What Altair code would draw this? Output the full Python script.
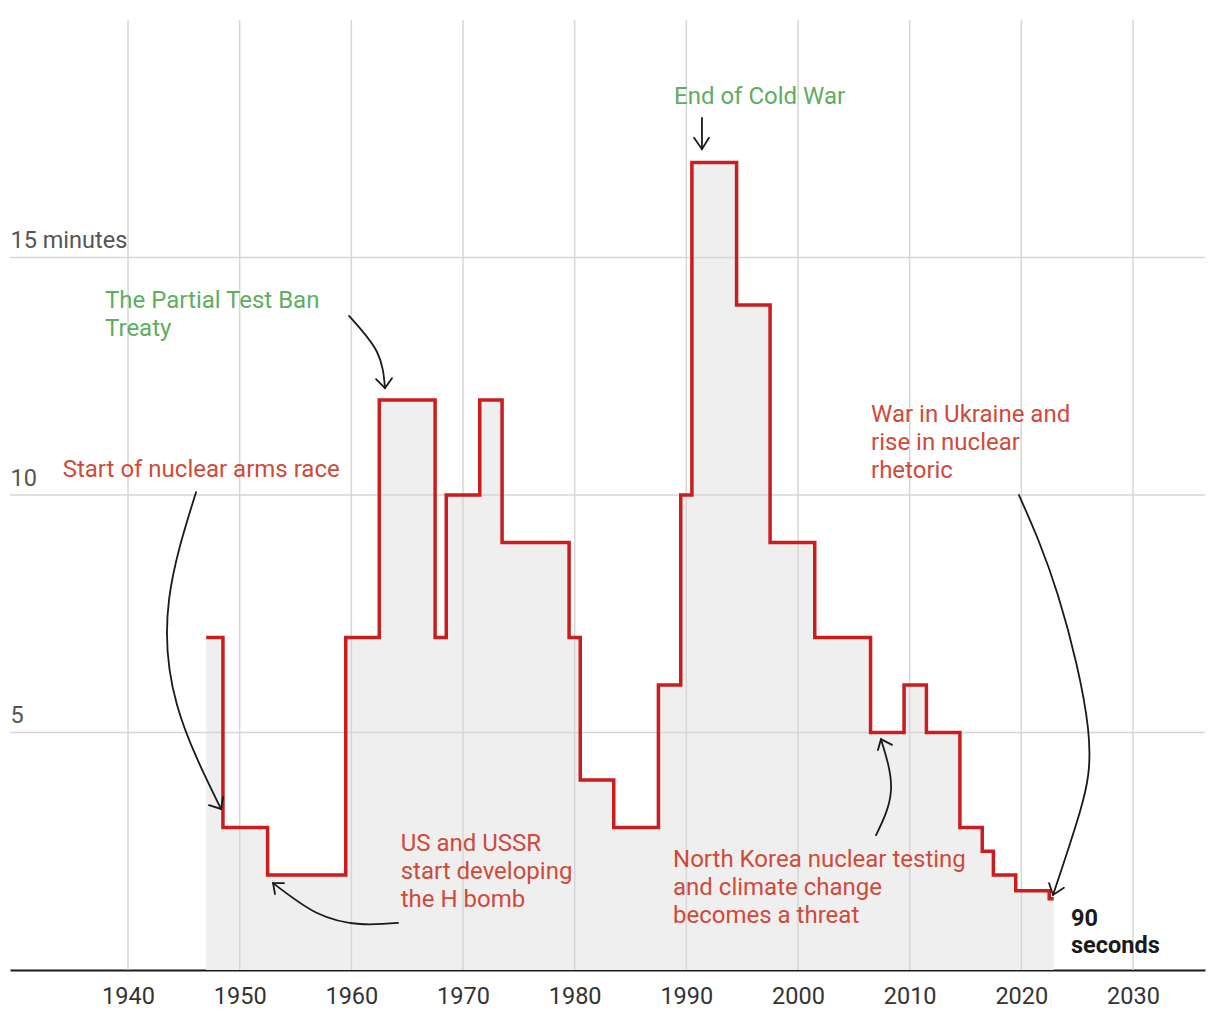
import altair as alt
import pandas as pd

# ---- data ----
# year at which each setting starts (steps drawn at mid-year), last value = end of area
step_years = [1947, 1948.5, 1952.5, 1959.5, 1962.5, 1967.5, 1968.5, 1971.5, 1973.5,
              1979.5, 1980.5, 1983.5, 1987.5, 1989.5, 1990.5, 1994.5, 1997.5, 2001.5,
              2006.5, 2009.5, 2011.5, 2014.5, 2016.5, 2017.5, 2019.5, 2022.5, 2022.9]
minutes = [7, 3, 2, 7, 12, 7, 10, 12, 9, 7, 4, 3, 6, 10, 17, 14, 9, 7, 5, 6, 5, 3,
           2.5, 2, 1.667, 1.5, 1.5]

x_ticks = [1940, 1950, 1960, 1970, 1980, 1990, 2000, 2010, 2020, 2030]
y_ticks = [5, 10, 15]

# annotations (data units)
ann_text = ["End of Cold War", "The Partial Test Ban\nTreaty", "Start of nuclear arms race",
            "US and USSR\nstart developing\nthe H bomb",
            "North Korea nuclear testing\nand climate change\nbecomes a threat",
            "War in Ukraine and\nrise in nuclear\nrhetoric"]
ann_x = [1988.9, 1937.94, 1934.15, 1964.42, 1988.81, 2006.54]
ann_y = [18.24, 13.94, 10.37, 2.505, 2.175, 11.54]
ann_color = ["#5fad5f", "#5fad5f", "#d04a3a", "#d04a3a", "#d04a3a", "#d04a3a"]

end_text = ["90\nseconds"]
end_x = [2024.45]
end_y = [0.933]

# curved arrow paths
arr_id = [1, 1, 1, 1, 2, 2, 2, 3, 3, 3, 3, 4, 4, 4, 5, 5, 6, 6, 6, 6, 6]
arr_x = [1946.09, 1943.67, 1944.39, 1948.33,
         1959.79, 1962.30, 1963.01,
         1964.18, 1960.78, 1956.93, 1952.99,
         2006.99, 2008.33, 2007.43,
         1991.40, 1991.40,
         2019.79, 2023.28, 2025.97, 2025.25, 2022.84]
arr_y = [10.06, 7.79, 5.58, 3.39,
         13.77, 13.01, 12.25,
         0.99, 0.968, 1.2, 1.83,
         2.84, 3.79, 4.86,
         17.94, 17.28,
         10.0, 7.89, 5.09, 3.33, 1.58]

# arrow heads (wing, tip, wing)
head_id = [1, 1, 1, 2, 2, 2, 3, 3, 3, 4, 4, 4, 5, 5, 5, 6, 6, 6]
head_x = [1947.25, 1948.33, 1948.51,
          1962.21, 1963.01, 1963.64,
          1953.97, 1952.99, 1953.16,
          2007.16, 2007.43, 2008.42,
          1990.69, 1991.40, 1992.03,
          2022.48, 2022.84, 2023.82]
head_y = [3.47, 3.39, 3.64,
          12.44, 12.25, 12.46,
          1.83, 1.83, 1.60,
          4.63, 4.86, 4.74,
          17.52, 17.28, 17.52,
          1.83, 1.58, 1.73]

# ---- tables ----
clock = pd.DataFrame({"year": step_years, "minutes": minutes})
xt = pd.DataFrame({"year": x_ticks})
yt = pd.DataFrame({"minutes": y_ticks})
ann = pd.DataFrame({"x": ann_x, "y": ann_y, "label": ann_text, "color": ann_color})
endann = pd.DataFrame({"x": end_x, "y": end_y, "label": end_text})
arrows = pd.DataFrame({"id": arr_id, "x": arr_x, "y": arr_y, "ord": range(len(arr_x))})
heads = pd.DataFrame({"id": head_id, "x": head_x, "y": head_y, "ord": range(len(head_x))})

FONT = "Roboto"
FS = 24
xscale = alt.Scale(domain=[1929.43, 2036.45], nice=False, zero=False)
yscale = alt.Scale(domain=[0, 20], nice=False, zero=True)

x_axis = alt.Axis(values=x_ticks, format="d", grid=False, ticks=False, tickSize=0,
                  domain=True, domainColor="#1a1a1a", domainWidth=2,
                  labelFont=FONT, labelFontSize=23.5, labelColor="#333333",
                  labelBaseline="alphabetic", labelPadding=33, title=None)
y_axis = alt.Axis(values=y_ticks, grid=False, ticks=False, tickSize=0, domain=False,
                  labelAlign="left", labelBaseline="alphabetic", labelPadding=0,
                  labelOffset=-10, labelFont=FONT, labelFontSize=23.5,
                  labelColor="#555555",
                  labelExpr="datum.value == 15 ? '15 minutes' : datum.label",
                  title=None)


def X(f):
    return alt.X(f, scale=xscale, axis=x_axis)


def Y(f):
    return alt.Y(f, scale=yscale, axis=y_axis)


area = alt.Chart(clock).mark_area(interpolate="step-after", color="#efefef").encode(
    x=X("year:Q"), y=Y("minutes:Q"))

vgrid = alt.Chart(xt).mark_rule(color="#d6d6d6", strokeWidth=1.5).encode(x=X("year:Q"))
hgrid = alt.Chart(yt).mark_rule(color="#d6d6d6", strokeWidth=1.5).encode(y=Y("minutes:Q"))

line = alt.Chart(clock).mark_line(interpolate="step-after", color="#c91d1e",
                                  strokeWidth=3.5, strokeJoin="miter").encode(
    x=X("year:Q"), y=Y("minutes:Q"))

texts = alt.Chart(ann).mark_text(align="left", baseline="alphabetic", lineBreak="\n",
                                 lineHeight=28, font=FONT, fontSize=FS).encode(
    x=X("x:Q"), y=Y("y:Q"),
    text="label:N",
    color=alt.Color("color:N", scale=None),
)

endtext = alt.Chart(endann).mark_text(align="left", baseline="alphabetic", lineBreak="\n",
                                      lineHeight=27, font=FONT, fontSize=23.5,
                                      fontWeight="bold", color="#1a1a1a").encode(
    x=X("x:Q"), y=Y("y:Q"), text="label:N")

arrow_lines = alt.Chart(arrows).mark_line(interpolate="natural", color="#1a1a1a",
                                          strokeWidth=1.8, strokeCap="round").encode(
    x=X("x:Q"), y=Y("y:Q"), detail="id:N", order="ord:Q")

arrow_heads = alt.Chart(heads).mark_line(interpolate="linear", color="#1a1a1a",
                                         strokeWidth=1.8, strokeCap="round",
                                         strokeJoin="miter").encode(
    x=X("x:Q"), y=Y("y:Q"), detail="id:N", order="ord:Q")

chart = alt.layer(area, vgrid, hgrid, line, texts, endtext, arrow_lines, arrow_heads).properties(
    width=1195, height=950,
    autosize=alt.AutoSizeParams(type="none"),
    padding={"left": 2, "top": 12, "right": 7, "bottom": 40},
).configure(font=FONT, background="white").configure_view(stroke=None)

chart.save("out.html", embed_options={"renderer": "svg", "actions": False})
